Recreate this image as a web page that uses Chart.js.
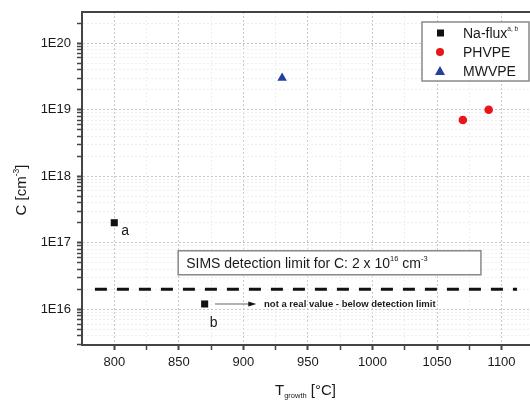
<!DOCTYPE html>
<html>
<head>
<meta charset="utf-8">
<script src="https://cdn.jsdelivr.net/npm/chart.js"></script>
<style>
body { margin: 0; background: #fff; }
</style>
</head>
<body>
<canvas id="canvas" width="530" height="401"></canvas>
<script>
// values
var naFluxT = [800, 870];
var naFluxC = [2e17, 1.2e16];
var phvpeT = [1070, 1090];
var phvpeC = [7e18, 1e19];
var mwvpeT = [930];
var mwvpeC = [3e19];
var limitT = [785, 1112];
var limitC = [2e16, 2e16];
var seriesNames = ['Na-flux', 'PHVPE', 'MWVPE'];
var xTicks = [800, 850, 900, 950, 1000, 1050, 1100];
var yTicks = [1e16, 1e17, 1e18, 1e19, 1e20];

function pts(xs, ys) {
    return xs.map(function (x, i) { return {x: x, y: ys[i]}; });
}

var FONT = '"Liberation Sans", Arial, sans-serif';
var TXT = '#1a1a1a';

// draws a run of text pieces (normal / super / sub) from x, returns width
function runText(ctx, parts, x, y, measureOnly) {
    var w = 0;
    parts.forEach(function (p) {
        ctx.font = (p.bold ? 'bold ' : '') + p.size + 'px ' + FONT;
        if (!measureOnly) ctx.fillText(p.t, x + w, y + (p.dy || 0));
        w += ctx.measureText(p.t).width;
    });
    return w;
}

var extras = {
    id: 'extras',
    afterDraw: function (chart) {
        var ctx = chart.ctx;
        var a = chart.chartArea;
        var xs = chart.scales.x, ys = chart.scales.y;
        ctx.save();

        // top frame line
        ctx.strokeStyle = '#444';
        ctx.lineWidth = 2;
        ctx.beginPath();
        ctx.moveTo(a.left - 1, a.top);
        ctx.lineTo(a.right, a.top);
        ctx.stroke();

        ctx.fillStyle = TXT;
        ctx.textBaseline = 'alphabetic';

        // labels a and b
        ctx.font = '14px ' + FONT;
        ctx.fillText('a', xs.getPixelForValue(800) + 7, ys.getPixelForValue(naFluxC[0]) + 12);
        ctx.fillText('b', xs.getPixelForValue(870) + 5, ys.getPixelForValue(naFluxC[1]) + 23);

        // SIMS box
        var bx1 = xs.getPixelForValue(849.5), bx2 = xs.getPixelForValue(1084);
        var by = ys.getPixelForValue(5e16);
        ctx.fillStyle = '#fff';
        ctx.fillRect(bx1, by - 12, bx2 - bx1, 24);
        ctx.strokeStyle = '#888';
        ctx.lineWidth = 1.5;
        ctx.strokeRect(bx1, by - 12, bx2 - bx1, 24);
        ctx.fillStyle = TXT;
        runText(ctx, [
            {t: 'SIMS detection limit for C: 2 x 10', size: 14},
            {t: '16', size: 7.5, dy: -7},
            {t: ' cm', size: 14},
            {t: '-3', size: 7.5, dy: -7}
        ], bx1 + 8, by + 5);

        // arrow, not a real value
        var ay = ys.getPixelForValue(naFluxC[1]);
        var ax1 = xs.getPixelForValue(878), ax2 = xs.getPixelForValue(910);
        ctx.strokeStyle = '#999';
        ctx.lineWidth = 1.5;
        ctx.beginPath();
        ctx.moveTo(ax1, ay);
        ctx.lineTo(ax2 - 6, ay);
        ctx.stroke();
        ctx.fillStyle = '#111';
        ctx.beginPath();
        ctx.moveTo(ax2, ay);
        ctx.lineTo(ax2 - 8, ay - 2.5);
        ctx.lineTo(ax2 - 8, ay + 2.5);
        ctx.closePath();
        ctx.fill();
        ctx.font = 'bold 9.5px ' + FONT;
        ctx.fillStyle = TXT;
        ctx.fillText('not a real value - below detection limit', xs.getPixelForValue(916), ay + 3);

        // legend
        var lx = 422, ly = 22, lw = 107, lh = 59;
        ctx.fillStyle = '#fff';
        ctx.fillRect(lx, ly, lw, lh);
        ctx.strokeStyle = '#888';
        ctx.lineWidth = 1.5;
        ctx.strokeRect(lx, ly, lw, lh);
        for (var i = 0; i < 3; i++) {
            var ds = chart.data.datasets[i];
            var ry = ly + 11 + i * 19;
            ctx.fillStyle = ds.backgroundColor;
            ctx.beginPath();
            if (ds.pointStyle === 'rect') ctx.rect(lx + 15, ry - 3.5, 7, 7);
            else if (ds.pointStyle === 'circle') ctx.arc(lx + 18, ry, 4, 0, Math.PI * 2);
            else { ctx.moveTo(lx + 18, ry - 5); ctx.lineTo(lx + 23, ry + 4); ctx.lineTo(lx + 13, ry + 4); ctx.closePath(); }
            ctx.fill();
            ctx.fillStyle = TXT;
            var parts = [{t: ds.label, size: 14}];
            if (i === 0) parts.push({t: 'a, b', size: 6.5, dy: -7});
            runText(ctx, parts, lx + 41, ry + 5);
        }

        // y title
        ctx.save();
        ctx.translate(21, 190);
        ctx.rotate(-Math.PI / 2);
        var yt = [{t: 'C [cm', size: 15}, {t: '-3', size: 8.5, dy: -7}, {t: ']', size: 15}];
        var w = runText(ctx, yt, 0, 0, true);
        ctx.fillStyle = TXT;
        runText(ctx, yt, -w / 2, 5);
        ctx.restore();

        // x title
        ctx.fillStyle = TXT;
        runText(ctx, [
            {t: 'T', size: 15},
            {t: 'growth', size: 7.5, dy: 3},
            {t: ' [\u00b0C]', size: 15}
        ], 275, 395);

        ctx.restore();
    }
};

var canv = document.getElementById('canvas');
var ctx = canv.getContext('2d');

window.myChart = new Chart(ctx, {
    type: 'scatter',
    data: {
        datasets: [{
            label: seriesNames[0],
            data: pts(naFluxT, naFluxC),
            pointStyle: 'rect',
            pointRadius: 5,
            backgroundColor: '#111',
            borderColor: '#111',
            borderWidth: 0
        }, {
            label: seriesNames[1],
            data: pts(phvpeT, phvpeC),
            pointStyle: 'circle',
            pointRadius: 4.3,
            backgroundColor: '#e8161b',
            borderColor: '#e8161b',
            borderWidth: 0
        }, {
            label: seriesNames[2],
            data: pts(mwvpeT, mwvpeC),
            pointStyle: 'triangle',
            pointRadius: 5.5,
            backgroundColor: '#23409e',
            borderColor: '#23409e',
            borderWidth: 0
        }, {
            type: 'line',
            label: 'limit',
            data: pts(limitT, limitC),
            borderColor: '#111',
            borderWidth: 3,
            borderDash: [12, 10],
            pointRadius: 0,
            fill: false
        }]
    },
    options: {
        responsive: false,
        animation: false,
        layout: { autoPadding: false, padding: { top: 12, right: 0, left: 0, bottom: 0 } },
        plugins: {
            legend: { display: false },
            tooltip: { enabled: false },
            title: { display: false }
        },
        scales: {
            x: {
                type: 'linear',
                min: 775,
                max: 1122,
                afterBuildTicks: function (scale) {
                    var t = [];
                    for (var v = xTicks[0]; v <= xTicks[xTicks.length - 1]; v += 25) t.push({value: v});
                    scale.ticks = t;
                },
                afterFit: function (scale) {
                    scale.height = 56;
                    scale.paddingLeft = 0;
                    scale.paddingRight = 0;
                },
                ticks: {
                    autoSkip: false,
                    maxRotation: 0,
                    padding: 5,
                    color: TXT,
                    font: { family: FONT, size: 13 },
                    callback: function (value) { return xTicks.indexOf(value) >= 0 ? value : ''; }
                },
                grid: {
                    color: function (c) { return c.tick && xTicks.indexOf(c.tick.value) >= 0 ? '#c8c8c8' : '#eeeeee'; },
                    lineWidth: 1,
                    tickColor: '#444',
                    tickLength: 5,
                    tickWidth: function (c) { return c.tick && xTicks.indexOf(c.tick.value) >= 0 ? 2 : 1.5; }
                },
                border: { color: '#444', width: 2, dash: [2, 2] }
            },
            y: {
                type: 'logarithmic',
                min: 2.9e15,
                max: 2.95e20,
                afterBuildTicks: function (scale) {
                    var t = [];
                    for (var e = 15; e <= 20; e++) {
                        for (var m = 1; m < 10; m++) {
                            var v = m * Math.pow(10, e);
                            if (v >= scale.min && v <= scale.max) t.push({value: v});
                        }
                    }
                    scale.ticks = t;
                },
                afterFit: function (scale) {
                    scale.width = 82;
                    scale.paddingTop = 0;
                    scale.paddingBottom = 0;
                },
                ticks: {
                    autoSkip: false,
                    padding: 6,
                    color: TXT,
                    font: { family: FONT, size: 13 },
                    callback: function (value) {
                        var i = yTicks.indexOf(value);
                        return i >= 0 ? '1E' + Math.round(Math.log10(value)) : '';
                    }
                },
                grid: {
                    color: function (c) { return c.tick && yTicks.indexOf(c.tick.value) >= 0 ? '#c8c8c8' : '#eeeeee'; },
                    lineWidth: 1,
                    tickColor: '#444',
                    tickLength: 5,
                    tickWidth: function (c) { return c.tick && yTicks.indexOf(c.tick.value) >= 0 ? 2 : 1.5; }
                },
                border: { color: '#444', width: 2, dash: [2, 2] }
            }
        }
    },
    plugins: [extras]
});
</script>
</body>
</html>
